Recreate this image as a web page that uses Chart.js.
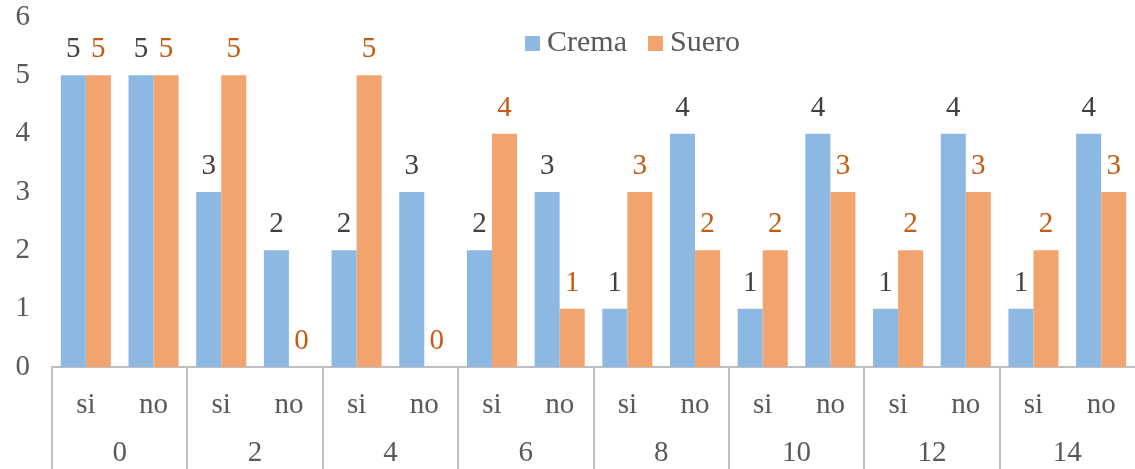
<!DOCTYPE html>
<html>
<head>
<meta charset="utf-8">
<script src="https://cdn.jsdelivr.net/npm/chart.js@4.4.0/dist/chart.umd.min.js"></script>
<style>
  html, body { margin: 0; padding: 0; background: #fff; }
  #wrap { width: 1135px; height: 469px; }
</style>
</head>
<body>
<div id="wrap"><canvas id="chart"></canvas></div>
<script>
// dias y respuestas (si / no) por grupo
const days = ['0', '2', '4', '6', '8', '10', '12', '14'];
const answers = ['si', 'no'];
const crema = [5, 5, 3, 2, 2, 3, 2, 3, 1, 4, 1, 4, 1, 4, 1, 4];
const suero = [5, 5, 5, 0, 5, 0, 4, 1, 3, 2, 2, 3, 2, 3, 2, 3];

const labels = days.flatMap(d => answers.map(a => a));
const serif = '"Liberation Serif", "Times New Roman", serif';
const gray = '#595959';
const lineGray = '#bfbfbf';

const series = [
    { label: 'Crema', data: crema, color: '#8db8e2', text: '#404040' },
    { label: 'Suero', data: suero, color: '#f2a46f', text: '#c55a11' }
];

// etiquetas de valor, eje x de dos niveles y leyenda
const extras = {
    id: 'extras',
    afterDraw(chart) {
        const ctx = chart.ctx;
        const area = chart.chartArea;
        const x = chart.scales.x;
        ctx.save();

        // valores sobre cada barra
        ctx.font = '29px ' + serif;
        ctx.textAlign = 'center';
        ctx.textBaseline = 'alphabetic';
        chart.data.datasets.forEach((ds, i) => {
            const meta = chart.getDatasetMeta(i);
            ctx.fillStyle = series[i].text;
            meta.data.forEach((bar, j) => {
                ctx.fillText(String(ds.data[j]), bar.x, bar.y - 18);
            });
        });

        // separadores de grupo
        const groupW = (area.right - area.left) / days.length;
        ctx.strokeStyle = lineGray;
        ctx.lineWidth = 2;
        for (let g = 0; g < days.length; g++) {
            const gx = Math.round(area.left + g * groupW);
            ctx.beginPath();
            ctx.moveTo(gx, area.bottom);
            ctx.lineTo(gx, chart.height);
            ctx.stroke();
        }

        // si / no y dia
        ctx.fillStyle = gray;
        ctx.textBaseline = 'middle';
        ctx.font = '29px ' + serif;
        labels.forEach((lab, j) => {
            ctx.fillText(lab, x.getPixelForValue(j), area.bottom + 38);
        });
        days.forEach((d, g) => {
            ctx.fillText(d, area.left + (g + 0.5) * groupW, area.bottom + 86);
        });

        // leyenda
        ctx.font = '30px ' + serif;
        ctx.textAlign = 'left';
        let lx = 525;
        const ly = 43;
        series.forEach(s => {
            ctx.fillStyle = s.color;
            ctx.fillRect(lx, ly - 7, 15, 15);
            ctx.fillStyle = gray;
            ctx.fillText(s.label, lx + 22, ly);
            lx += 22 + ctx.measureText(s.label).width + 21;
        });

        ctx.restore();
    }
};

new Chart(document.getElementById('chart'), {
    type: 'bar',
    data: {
        labels: labels,
        datasets: series.map(s => ({
            label: s.label,
            data: s.data,
            backgroundColor: s.color,
            borderWidth: 0,
            categoryPercentage: 0.74,
            barPercentage: 1
        }))
    },
    options: {
        responsive: true,
        maintainAspectRatio: false,
        animation: false,
        devicePixelRatio: 1,
        layout: { padding: { top: 17, right: 0, bottom: 94, left: 0 } },
        plugins: {
            legend: { display: false },
            tooltip: { enabled: false }
        },
        scales: {
            x: {
                grid: { display: false },
                border: { display: true, color: lineGray, width: 2 },
                ticks: { display: false }
            },
            y: {
                min: 0,
                max: 6,
                grid: { display: false, drawTicks: false },
                border: { display: false },
                ticks: {
                    stepSize: 1,
                    color: gray,
                    padding: 22,
                    font: { family: serif, size: 29 }
                },
                afterFit(scale) {
                    scale.width = 52;
                    scale.paddingTop = 0;
                    scale.paddingBottom = 0;
                }
            }
        }
    },
    plugins: [extras]
});
</script>
</body>
</html>
